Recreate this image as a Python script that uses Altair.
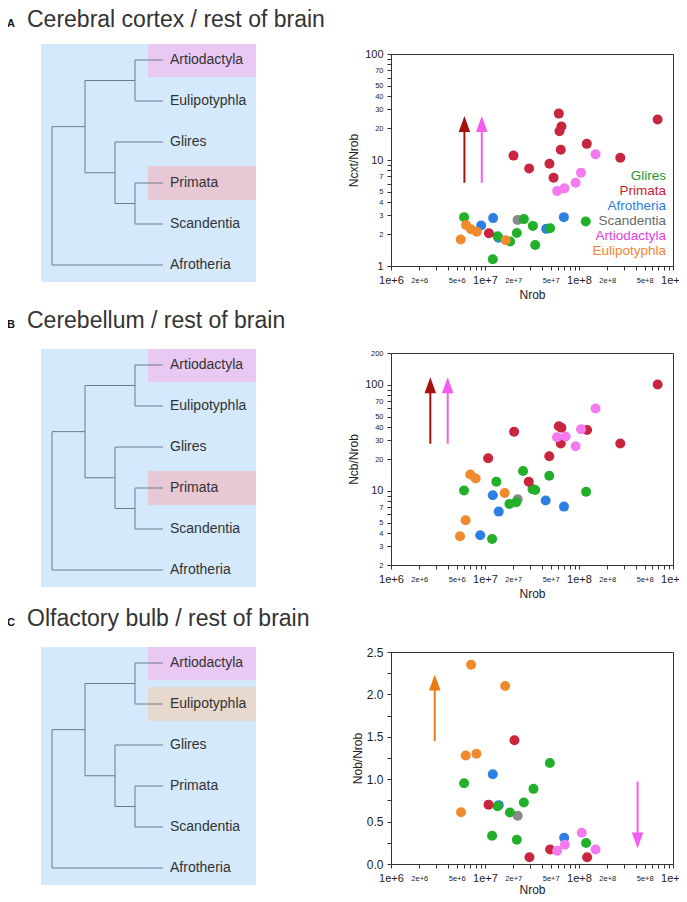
import altair as alt
import pandas as pd

FONT = "Liberation Sans"

# ---------------- phylogeny ----------------
leaves = ["Artiodactyla", "Eulipotyphla", "Glires", "Primata", "Scandentia", "Afrotheria"]
clade_names = ["AE", "PS", "GPS", "BO", "root"]
clade_children = [["Artiodactyla", "Eulipotyphla"], ["Primata", "Scandentia"],
                  ["Glires", "PS"], ["AE", "GPS"], ["BO", "Afrotheria"]]
clade_depth = [94, 94, 74, 44, 11]      # branch position of each internal node
leaf_depth = 122

highlight_A = ["Artiodactyla", "Primata"]
highlight_C = ["Artiodactyla", "Eulipotyphla"]
highlight_colors = {"Artiodactyla": "#e9c9f3", "Primata": "#e8c8d5", "Eulipotyphla": "#e8d9cf"}

# ---------------- groups ----------------
groups = ["Glires", "Primata", "Afrotheria", "Scandentia", "Artiodactyla", "Eulipotyphla"]
group_colors = ["#22b02a", "#c8263f", "#2e7fe3", "#8a8a8a", "#f57aef", "#f08a2e"]
legend_colors = ["#22992a", "#cc2030", "#2a80dd", "#6a6a6a", "#e43ee0", "#f28533"]

# ---------------- A: cerebral cortex ----------------
cortex_group = (["Afrotheria"] * 5 + ["Scandentia"] + ["Glires"] * 10 + ["Eulipotyphla"] * 5
                + ["Primata"] * 12 + ["Artiodactyla"] * 5)
cortex_nrob = [9.1e6, 1.22e7, 1.39e7, 4.48e7, 6.9e7,
               2.22e7,
               5.99e6, 1.36e7, 1.21e7, 1.85e7, 2.18e7, 2.59e7, 3.23e7, 3.42e7, 4.93e7, 1.18e8,
               5.52e6, 6.29e6, 7.1e6, 8.17e6, 1.66e7,
               2.01e7, 2.95e7, 4.85e7, 5.36e7, 6.1e7, 6.5e7, 6.2e7, 6.4e7, 1.21e8, 2.75e8, 6.86e8, 1.1e7,
               5.86e7, 7.0e7, 9.2e7, 1.05e8, 1.5e8]
cortex_ratio = [2.41, 2.83, 1.85, 2.24, 2.89,
                2.72,
                2.89, 1.91, 1.16, 1.70, 2.05, 2.77, 2.39, 1.58, 2.27, 2.63,
                1.78, 2.44, 2.22, 2.11, 1.75,
                11.0, 8.3, 9.2, 6.8, 27.4, 20.7, 18.7, 12.5, 14.2, 10.5, 24.1, 2.04,
                5.1, 5.4, 6.1, 7.6, 11.3]
cortex_arrow_nrob = [6.04e6, 9.24e6]
cortex_arrow_from = [6.1, 6.1]
cortex_arrow_head = [21.9, 21.9]
cortex_arrow_color = ["#a5100c", "#f55ced"]
cortex_arrow_dir = ["up", "up"]

# ---------------- B: cerebellum ----------------
cereb_group = (["Afrotheria"] * 5 + ["Scandentia"] + ["Glires"] * 10 + ["Eulipotyphla"] * 5
               + ["Primata"] * 10 + ["Artiodactyla"] * 5)
cereb_nrob = [8.9e6, 1.21e7, 1.4e7, 4.42e7, 6.92e7,
              2.23e7,
              5.98e6, 1.32e7, 1.19e7, 1.82e7, 2.15e7, 2.54e7, 3.2e7, 3.42e7, 4.83e7, 1.19e8,
              6.98e6, 7.96e6, 6.22e6, 5.42e6, 1.62e7,
              1.08e7, 2.04e7, 2.92e7, 4.83e7, 6.1e7, 6.5e7, 6.4e7, 1.22e8, 2.75e8, 6.87e8,
              5.83e7, 7.2e7, 9.2e7, 1.05e8, 1.5e8]
cereb_ratio = [3.82, 9.1, 6.38, 8.11, 7.11,
               8.34,
               10.1, 12.2, 3.52, 7.54, 7.82, 15.4, 10.4, 10.2, 13.9, 9.8,
               14.3, 13.1, 5.28, 3.73, 9.57,
               20.3, 36.1, 12.2, 21.2, 40.7, 39.5, 28.0, 37.6, 28.0, 101,
               32.1, 32.6, 26.4, 38.2, 59.8]
cereb_arrow_nrob = [2.62e6, 4.01e6]
cereb_arrow_from = [27.9, 27.9]
cereb_arrow_head = [99.5, 99.5]
cereb_arrow_color = ["#a5100c", "#f55ced"]
cereb_arrow_dir = ["up", "up"]

# ---------------- C: olfactory bulb ----------------
bulb_group = (["Afrotheria"] * 3 + ["Scandentia"] + ["Glires"] * 9 + ["Eulipotyphla"] * 5
              + ["Primata"] * 5 + ["Artiodactyla"] * 4)
bulb_nrob = [1.21e7, 1.4e7, 6.95e7,
             2.23e7,
             5.99e6, 1.36e7, 1.19e7, 1.84e7, 2.18e7, 2.59e7, 3.28e7, 4.9e7, 1.19e8,
             7.11e6, 1.64e7, 6.24e6, 8.1e6, 5.56e6,
             2.06e7, 1.09e7, 2.97e7, 4.93e7, 1.22e8,
             5.86e7, 7.07e7, 1.07e8, 1.5e8]
bulb_ratio = [1.058, 0.694, 0.31,
              0.568,
              0.952, 0.682, 0.333, 0.607, 0.286, 0.725, 0.886, 1.191, 0.247,
              2.35, 2.10, 1.28, 1.30, 0.61,
              1.46, 0.70, 0.08, 0.17, 0.08,
              0.157, 0.227, 0.368, 0.172]
bulb_arrow_nrob = [2.92e6, 4.2e8]
bulb_arrow_from = [1.45, 0.971]
bulb_arrow_head = [2.14, 0.276]
bulb_arrow_color = ["#f07a12", "#f55ced"]
bulb_arrow_dir = ["up", "down"]

# ---------------- axis ticks ----------------
x_ticks = [m * 10 ** k for k in (6, 7, 8) for m in range(1, 10)] + [10 ** 9]
yA_ticks = [1, 2, 3, 4, 5, 6, 7, 8, 9, 10, 20, 30, 40, 50, 60, 70, 80, 90, 100]
yB_ticks = [2, 3, 4, 5, 6, 7, 8, 9, 10, 20, 30, 40, 50, 60, 70, 80, 90, 100, 200]
yC_ticks = [0, 0.25, 0.5, 0.75, 1.0, 1.25, 1.5, 1.75, 2.0, 2.25, 2.5]

# ---------------- layout constants ----------------
TREE_W, TREE_H = 215, 231
ROW, FIRST = 41, 16
LABEL_X, HL_X0 = 129, 107
PLOT_W, PLOT_H = 282, 212
BG = "#d4e9fb"
LINE = "#6b7d8c"
TXT = "#333333"
TITLE_SIZE, LETTER_SIZE = 23, 11

MANT = "substring(format(datum.value, '.0e'), 0, 1)"


def tree_chart(letter, title, highlights, off, title_gap):
    ypos = {lf: FIRST + ROW * i for i, lf in enumerate(leaves)}
    xpos = {lf: leaf_depth for lf in leaves}
    segs = []
    for name, kids, bx in zip(clade_names, clade_children, clade_depth):
        ys = [ypos[k] for k in kids]
        ypos[name] = sum(ys) / len(ys)
        xpos[name] = bx
        segs.append(dict(x=bx, x2=bx, y=min(ys), y2=max(ys)))
        for k in kids:
            segs.append(dict(x=bx, x2=xpos[k], y=ypos[k], y2=ypos[k]))
    segs = pd.DataFrame(segs)

    xs = alt.Scale(domain=[0, TREE_W], nice=False, zero=False)
    ys_ = alt.Scale(domain=[off, off + TREE_H], nice=False, zero=False, reverse=True)

    def X(f):
        return alt.X(f, type="quantitative", scale=xs, axis=None)

    def Y(f):
        return alt.Y(f, type="quantitative", scale=ys_, axis=None)

    bg_df = pd.DataFrame({"x": [0], "x2": [TREE_W],
                          "y": [ypos[leaves[0]] - FIRST], "y2": [ypos[leaves[-1]] + 17]})
    bg = alt.Chart(bg_df).mark_rect(color=BG).encode(x=X("x"), x2="x2", y=Y("y"), y2="y2")

    hl_df = pd.DataFrame({
        "x": [HL_X0] * len(highlights),
        "x2": [TREE_W] * len(highlights),
        "y": [max(0, ypos[h] - 17) for h in highlights],
        "y2": [ypos[h] + 17 for h in highlights],
        "c": [highlight_colors[h] for h in highlights],
    })
    hl = alt.Chart(hl_df).mark_rect().encode(
        x=X("x"), x2="x2", y=Y("y"), y2="y2", color=alt.Color("c:N", scale=None))

    br = alt.Chart(segs).mark_rule(color=LINE, strokeWidth=1).encode(
        x=X("x"), x2="x2", y=Y("y"), y2="y2")

    lab_df = pd.DataFrame({"name": leaves, "x": [LABEL_X] * len(leaves),
                           "y": [ypos[l] for l in leaves]})
    lab = alt.Chart(lab_df).mark_text(align="left", baseline="middle", font=FONT,
                                      fontSize=14, color=TXT).encode(
        x=X("x"), y=Y("y"), text="name:N")

    base_line = -off - title_gap
    let = alt.Chart(pd.DataFrame({"t": [letter]})).mark_text(
        align="left", baseline="alphabetic", font=FONT, fontSize=LETTER_SIZE, fontWeight="bold",
        color="#111").encode(x=alt.value(-34), y=alt.value(base_line), text="t:N")
    tit = alt.Chart(pd.DataFrame({"t": [title]})).mark_text(
        align="left", baseline="alphabetic", font=FONT, fontSize=TITLE_SIZE,
        color=TXT).encode(x=alt.value(-14), y=alt.value(base_line), text="t:N")

    return alt.layer(bg, hl, br, lab, let, tit).properties(width=TREE_W, height=TREE_H)


def scatter_chart(grp, nrob, ratio, ylog, ydomain, yticks, ytitle, ytitle_x,
                  a_x, a_from, a_head, a_col, a_dir, legend=False, xtitle_y=28):
    df = pd.DataFrame({"group": grp, "nrob": nrob, "ratio": ratio})

    xaxis = alt.Axis(values=x_ticks, grid=False, tickSize=4, labelPadding=10,
                     labelBaseline="middle", labelOverlap=False, labelFlush=False,
                     labelExpr=f"({MANT}=='1'||{MANT}=='2'||{MANT}=='5') ? format(datum.value, '.0e') : ''",
                     labelFontSize={"condition": {"test": f"{MANT}=='1'", "value": 11}, "value": 7.5},
                     titleX=PLOT_W / 2, titleY=xtitle_y, titleBaseline="middle", titleFontSize=12)
    if ylog:
        yaxis = alt.Axis(values=yticks, grid=False, tickSize=4, labelPadding=4,
                         labelOverlap=False, labelFlush=False,
                         labelExpr=(f"({MANT}=='1'||{MANT}=='2'||{MANT}=='3'||{MANT}=='4'||"
                                    f"{MANT}=='5'||{MANT}=='7') ? format(datum.value, 'd') : ''"),
                         labelFontSize={"condition": {"test": f"{MANT}=='1'", "value": 11}, "value": 7.5},
                         titleX=ytitle_x, titleY=PLOT_H / 2, titleBaseline="middle",
                         titleAngle=270, titleFontSize=12)
        yscale = alt.Scale(type="log", domain=ydomain, nice=False)
    else:
        yaxis = alt.Axis(values=yticks, grid=False, tickSize=4, labelPadding=4,
                         labelOverlap=False, labelFlush=False,
                         labelExpr="(round(datum.value*4) % 2 == 0) ? format(datum.value, '.1f') : ''",
                         labelFontSize=12,
                         titleX=ytitle_x, titleY=PLOT_H / 2, titleBaseline="middle",
                         titleAngle=270, titleFontSize=12)
        yscale = alt.Scale(type="linear", domain=ydomain, nice=False, zero=False)
    xscale = alt.Scale(type="log", domain=[1e6, 1e9], nice=False)

    def X(f):
        return alt.X(f, type="quantitative", scale=xscale, axis=xaxis, title="Nrob")

    def Y(f):
        return alt.Y(f, type="quantitative", scale=yscale, axis=yaxis, title=ytitle)

    pts = alt.Chart(df).mark_circle(size=100, opacity=1).encode(
        x=X("nrob"), y=Y("ratio"),
        color=alt.Color("group:N", scale=alt.Scale(domain=groups, range=group_colors), legend=None))

    layers = [pts]
    for ax, af, ah, ac, ad in zip(a_x, a_from, a_head, a_col, a_dir):
        adf = pd.DataFrame({"nrob": [ax], "y0": [af], "y1": [ah]})
        layers.append(alt.Chart(adf).mark_rule(color=ac, strokeWidth=2).encode(
            x=X("nrob"), y=Y("y0"), y2="y1"))
        shape = "M0,-1L0.72,1L-0.72,1Z" if ad == "up" else "M0,1L0.72,-1L-0.72,-1Z"
        layers.append(alt.Chart(adf).mark_point(shape=shape, size=256, filled=True, opacity=1,
                                                color=ac, strokeWidth=0).encode(
            x=X("nrob"), y=Y("y1")))

    if legend:
        for i, (g, c) in enumerate(zip(groups, legend_colors)):
            layers.append(alt.Chart(pd.DataFrame({"t": [g]})).mark_text(
                align="right", baseline="middle", font=FONT, fontSize=13.5, color=c).encode(
                x=alt.value(PLOT_W - 7), y=alt.value(122 + 15 * i), text="t:N"))

    return alt.layer(*layers).properties(
        width=PLOT_W, height=PLOT_H,
        view=alt.ViewBackground(stroke="#333333", strokeWidth=1))


treeA = tree_chart("A", "Cerebral cortex / rest of brain", highlight_A, 10, 17)
treeB = tree_chart("B", "Cerebellum / rest of brain", highlight_A, 4, 21)
treeC = tree_chart("C", "Olfactory bulb / rest of brain", highlight_C, 5, 21)

scA = scatter_chart(cortex_group, cortex_nrob, cortex_ratio, True, [1, 100], yA_ticks,
                    "Ncxt/Nrob", -38, cortex_arrow_nrob, cortex_arrow_from, cortex_arrow_head,
                    cortex_arrow_color, cortex_arrow_dir, legend=True)
scB = scatter_chart(cereb_group, cereb_nrob, cereb_ratio, True, [2, 200], yB_ticks,
                    "Ncb/Nrob", -38, cereb_arrow_nrob, cereb_arrow_from, cereb_arrow_head,
                    cereb_arrow_color, cereb_arrow_dir)
scC = scatter_chart(bulb_group, bulb_nrob, bulb_ratio, False, [0, 2.5], yC_ticks,
                    "Nob/Nrob", -34, bulb_arrow_nrob, bulb_arrow_from, bulb_arrow_head,
                    bulb_arrow_color, bulb_arrow_dir, xtitle_y=25)

chart = alt.concat(treeA, scA, treeB, scB, treeC, scC, columns=2,
                   spacing={"row": 68, "column": 135}).properties(
    bounds="flush", align="each",
    autosize=alt.AutoSizeParams(type="none"),
    padding={"left": 33, "top": 46, "right": 638, "bottom": 840},
).configure_view(stroke=None).configure_axis(
    labelFont=FONT, titleFont=FONT, labelColor="#222222", titleColor="#222222",
    domainColor="#333333", tickColor="#333333", titleFontWeight="normal"
)

chart.save("out.html", embed_options={"renderer": "svg", "actions": False})
